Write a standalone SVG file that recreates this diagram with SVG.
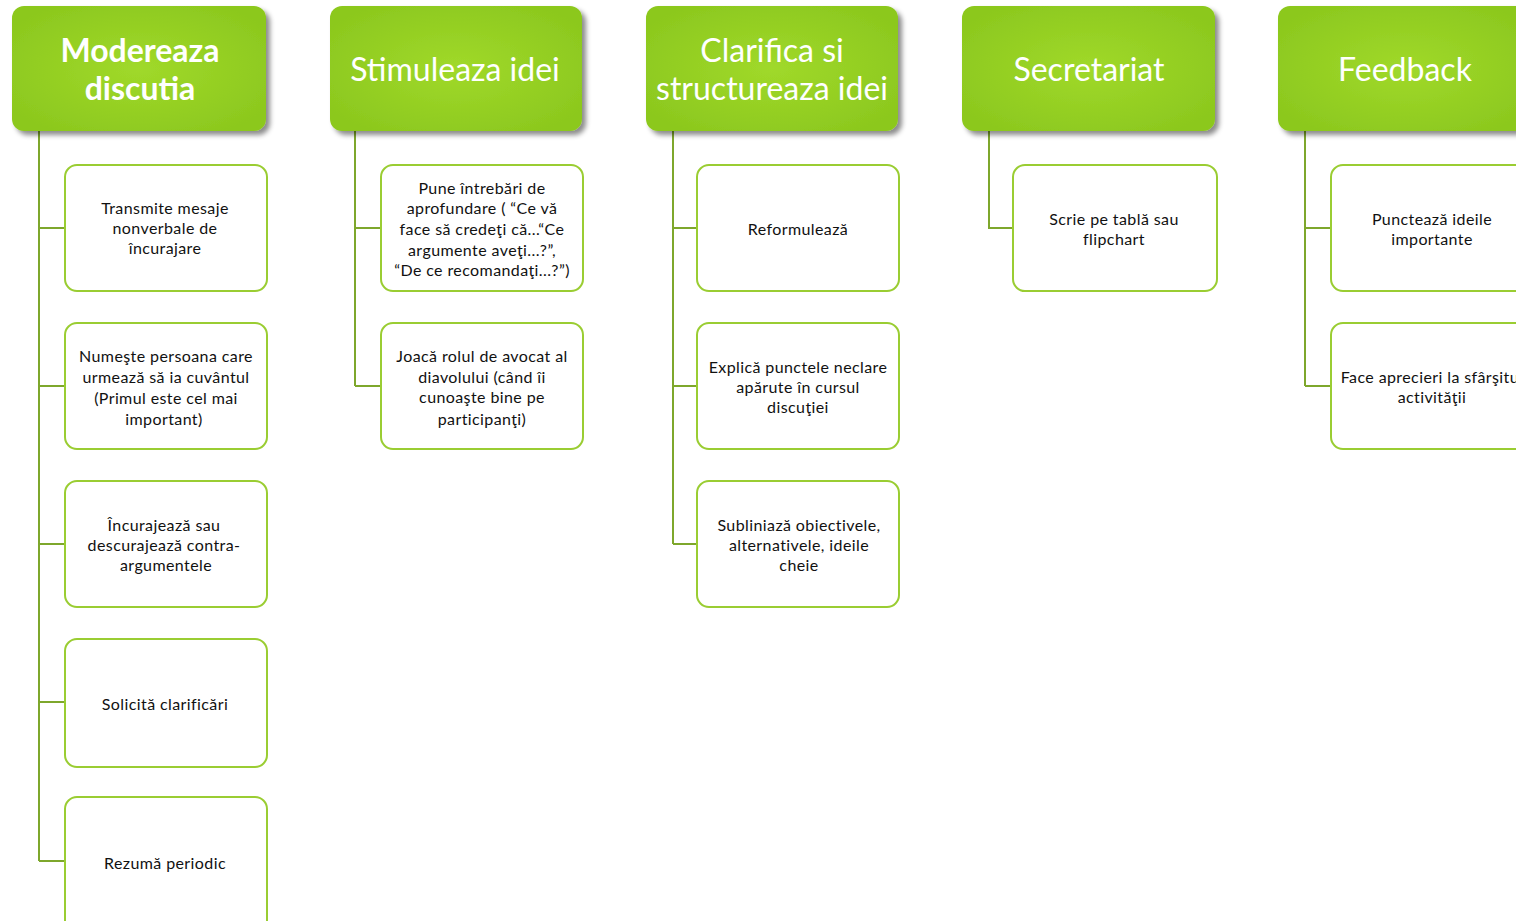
<svg xmlns="http://www.w3.org/2000/svg" width="1516" height="921" viewBox="0 0 1516 921">
<defs>
<radialGradient id="hg" cx="50%" cy="50%" r="60%">
<stop offset="0" stop-color="#a0d92a"/>
<stop offset="1" stop-color="#8cc81e"/>
</radialGradient>
<filter id="sh" x="-10%" y="-10%" width="125%" height="130%">
<feDropShadow dx="4" dy="4" stdDeviation="2.5" flood-color="#000" flood-opacity="0.45"/>
</filter>
<style>
.hd{fill:url(#hg);filter:url(#sh)}
.ht{font-family:Lato,"Open Sans",sans-serif;font-size:32px;fill:#fff;text-anchor:middle;dominant-baseline:central}
.bold{font-weight:bold}
.cb{fill:#fff;stroke:#9acd32;stroke-width:2}
.ct{font-family:Lato,"Open Sans",sans-serif;font-size:16px;letter-spacing:0.4px;fill:#111;text-anchor:middle;dominant-baseline:central}
.cn{fill:none;stroke:#7ea72c;stroke-width:2}
</style>
</defs>
<rect width="1516" height="921" fill="#fff"/>
<g id="connectors">
<path class="cn" d="M39 131V861M39 228H65M39 386H65M39 544H65M39 702H65M39 861H65"/>
<path class="cn" d="M355 131V386M355 228H381M355 386H381"/>
<path class="cn" d="M673 131V544M673 228H697M673 386H697M673 544H697"/>
<path class="cn" d="M989 131V228H1013"/>
<path class="cn" d="M1305 131V386M1305 228H1331M1305 386H1331"/>
</g>
<g id="h1"><rect class="hd" x="12" y="6" width="254" height="125" rx="12"/>
<text class="ht bold" x="140" y="49">Modereaza</text><text class="ht bold" x="140" y="87">discutia</text></g>
<g id="h2"><rect class="hd" x="330" y="6" width="252" height="125" rx="12"/>
<text class="ht" x="455" y="68">Stimuleaza idei</text></g>
<g id="h3"><rect class="hd" x="646" y="6" width="252" height="125" rx="12"/>
<text class="ht" x="772" y="49">Clarifica si</text><text class="ht" x="772" y="87">structureaza idei</text></g>
<g id="h4"><rect class="hd" x="962" y="6" width="253" height="125" rx="12"/>
<text class="ht" x="1089" y="68">Secretariat</text></g>
<g id="h5"><rect class="hd" x="1278" y="6" width="254" height="125" rx="12"/>
<text class="ht" x="1405" y="68">Feedback</text></g>

<g id="c1a"><rect class="cb" x="65" y="165" width="202" height="126" rx="12"/>
<text class="ct" x="165" y="207">Transmite mesaje</text><text class="ct" x="165" y="227">nonverbale de</text><text class="ct" x="165" y="247">încurajare</text></g>
<g id="c1b"><rect class="cb" x="65" y="323" width="202" height="126" rx="12"/>
<text class="ct" x="166" y="355">Numeşte persoana care</text><text class="ct" x="166" y="376">urmează să ia cuvântul</text><text class="ct" x="166" y="397">(Primul este cel mai</text><text class="ct" x="164" y="418">important)</text></g>
<g id="c1c"><rect class="cb" x="65" y="481" width="202" height="126" rx="12"/>
<text class="ct" x="164" y="524">Încurajează sau</text><text class="ct" x="164" y="544">descurajează contra-</text><text class="ct" x="166" y="564">argumentele</text></g>
<g id="c1d"><rect class="cb" x="65" y="639" width="202" height="128" rx="12"/>
<text class="ct" x="165" y="703">Solicită clarificări</text></g>
<g id="c1e"><rect class="cb" x="65" y="797" width="202" height="135" rx="12"/>
<text class="ct" x="165" y="862">Rezumă periodic</text></g>

<g id="c2a"><rect class="cb" x="381" y="165" width="202" height="126" rx="12"/>
<text class="ct" x="482" y="187">Pune întrebări de</text><text class="ct" x="482" y="207">aprofundare ( “Ce vă</text><text class="ct" x="482" y="228">face să credeţi că...“Ce</text><text class="ct" x="482" y="249">argumente aveţi...?”,</text><text class="ct" x="482" y="269">“De ce recomandaţi...?”)</text></g>
<g id="c2b"><rect class="cb" x="381" y="323" width="202" height="126" rx="12"/>
<text class="ct" x="482" y="355">Joacă rolul de avocat al</text><text class="ct" x="482" y="376">diavolului (când îi</text><text class="ct" x="482" y="396">cunoaşte bine pe</text><text class="ct" x="482" y="418">participanţi)</text></g>

<g id="c3a"><rect class="cb" x="697" y="165" width="202" height="126" rx="12"/>
<text class="ct" x="798" y="228">Reformulează</text></g>
<g id="c3b"><rect class="cb" x="697" y="323" width="202" height="126" rx="12"/>
<text class="ct" x="798" y="366">Explică punctele neclare</text><text class="ct" x="798" y="386">apărute în cursul</text><text class="ct" x="798" y="406">discuţiei</text></g>
<g id="c3c"><rect class="cb" x="697" y="481" width="202" height="126" rx="12"/>
<text class="ct" x="799" y="524">Subliniază obiectivele,</text><text class="ct" x="799" y="544">alternativele, ideile</text><text class="ct" x="799" y="564">cheie</text></g>

<g id="c4a"><rect class="cb" x="1013" y="165" width="204" height="126" rx="12"/>
<text class="ct" x="1114" y="218">Scrie pe tablă sau</text><text class="ct" x="1114" y="238">flipchart</text></g>

<g id="c5a"><rect class="cb" x="1331" y="165" width="202" height="126" rx="12"/>
<text class="ct" x="1432" y="218">Punctează ideile</text><text class="ct" x="1432" y="238">importante</text></g>
<g id="c5b"><rect class="cb" x="1331" y="323" width="202" height="126" rx="12"/>
<text class="ct" x="1432" y="376">Face aprecieri  la sfârşitul</text><text class="ct" x="1432" y="396">activităţii</text></g>
</svg>
